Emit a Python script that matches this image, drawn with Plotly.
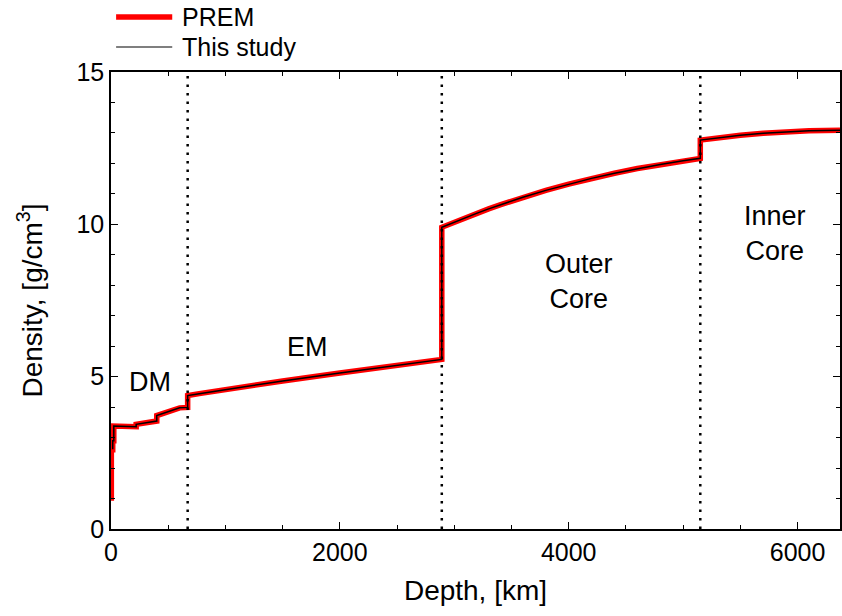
import plotly.graph_objects as go

# PREM density profile: depth [km] vs density [g/cm^3]
prem_depth = [0, 3, 3, 15, 15, 24.4, 24.4, 80, 220, 220, 400, 400, 600, 600, 670, 670,
              771, 1000, 1500, 2000, 2500, 2741, 2891, 2891,
              2950, 3000, 3100, 3200, 3300, 3400, 3500, 3600, 3800, 4000, 4200, 4400, 4600, 4800, 5000, 5150, 5150,
              5300, 5500, 5700, 5900, 6100, 6371]
prem_rho = [1.02, 1.02, 2.60, 2.60, 2.90, 2.90, 3.381, 3.375, 3.360, 3.436, 3.543, 3.724, 3.976, 3.976, 3.992, 4.381,
            4.443, 4.580, 4.860, 5.121, 5.372, 5.492, 5.567, 9.904,
            9.997, 10.074, 10.224, 10.369, 10.507, 10.639, 10.766, 10.888, 11.115, 11.322, 11.509, 11.678, 11.830,
            11.966, 12.086, 12.166, 12.764,
            12.839, 12.923, 12.991, 13.040, 13.073, 13.089]

# Model profile from this study
model_depth = [15, 15, 24.4, 24.4, 80, 220, 220, 400, 400, 600, 600, 670, 670,
               771, 1000, 1500, 2000, 2500, 2741, 2891, 2891,
               2950, 3000, 3100, 3200, 3300, 3400, 3500, 3600, 3800, 4000, 4200, 4400, 4600, 4800, 5000, 5150, 5150,
               5300, 5500, 5700, 5900, 6100, 6371]
model_rho = [2.62, 2.90, 2.90, 3.381, 3.375, 3.360, 3.436, 3.543, 3.724, 3.976, 3.976, 3.992, 4.381,
             4.443, 4.580, 4.860, 5.121, 5.372, 5.492, 5.567, 9.904,
             9.997, 10.074, 10.224, 10.369, 10.507, 10.639, 10.766, 10.888, 11.115, 11.322, 11.509, 11.678, 11.830,
             11.966, 12.086, 12.166, 12.764,
             12.839, 12.923, 12.991, 13.040, 13.073, 13.089]

# Major boundaries: 670 km discontinuity, core-mantle boundary, inner-core boundary
boundaries = [670, 2891, 5150]

# Region labels
region_text = ["DM", "EM", "Outer<br>Core", "Inner<br>Core"]
region_x = [341, 1721, 4090, 5803]
region_y = [4.82, 5.97, 8.11, 9.71]

FONT = "Liberation Sans, Arial, sans-serif"

series = [
    dict(name="PREM", x=prem_depth, y=prem_rho, color="#ff0000", width=5.5),
    dict(name="This study", x=model_depth, y=model_rho, color="#000000", width=1.5),
]

fig = go.Figure()
for s in series:
    fig.add_trace(go.Scatter(x=s["x"], y=s["y"], mode="lines", name=s["name"], showlegend=False,
                             line=dict(color=s["color"], width=s["width"])))

for b in boundaries:
    fig.add_shape(type="line", xref="x", yref="paper", x0=b, x1=b, y0=0, y1=1,
                  line=dict(color="black", width=2.5, dash="2.5px,6px"), layer="above")

for t, x, y in zip(region_text, region_x, region_y):
    fig.add_annotation(x=x, y=y, xref="x", yref="y", text=t, showarrow=False,
                       font=dict(size=27, color="black", family=FONT))

# Legend drawn above the axes box, top-left
legend_rows_y = [1.1204, 1.0547]
for s, ly in zip(series, legend_rows_y):
    fig.add_shape(type="line", xref="paper", yref="paper", x0=0.007, x1=0.084, y0=ly, y1=ly,
                  line=dict(color=s["color"], width=s["width"] if s["width"] > 2 else 1.2))
    fig.add_annotation(x=0.094, y=ly, xref="paper", yref="paper", text=s["name"], showarrow=False,
                       xanchor="left", yanchor="middle",
                       font=dict(size=25, color="black", family=FONT))

axis_common = dict(showline=True, linecolor="black", linewidth=1.5, mirror="allticks",
                   ticks="inside", ticklen=7, tickwidth=1.2, tickcolor="black",
                   showgrid=False, zeroline=False,
                   tickfont=dict(size=25, color="black", family=FONT))

fig.update_xaxes(range=[0, 6371], tickvals=[0, 2000, 4000, 6000],
                 minor=dict(dtick=500, tick0=0, ticks="inside", ticklen=4, tickcolor="black"),
                 title=dict(text="Depth, [km]", font=dict(size=28, color="black", family=FONT), standoff=16),
                 **axis_common)
fig.update_yaxes(range=[0, 15], tickvals=[0, 5, 10, 15],
                 minor=dict(dtick=1, tick0=0, ticks="inside", ticklen=4, tickcolor="black"),
                 title=dict(text="Density, [g/cm<sup>3</sup>]", font=dict(size=28, color="black", family=FONT), standoff=26),
                 **axis_common)

fig.update_layout(
    width=842, height=616,
    margin=dict(l=111, r=2, t=72, b=87, autoexpand=False),
    paper_bgcolor="white", plot_bgcolor="white",
    font=dict(family=FONT, color="black"),
    showlegend=False,
)

fig.write_html("out.html")
